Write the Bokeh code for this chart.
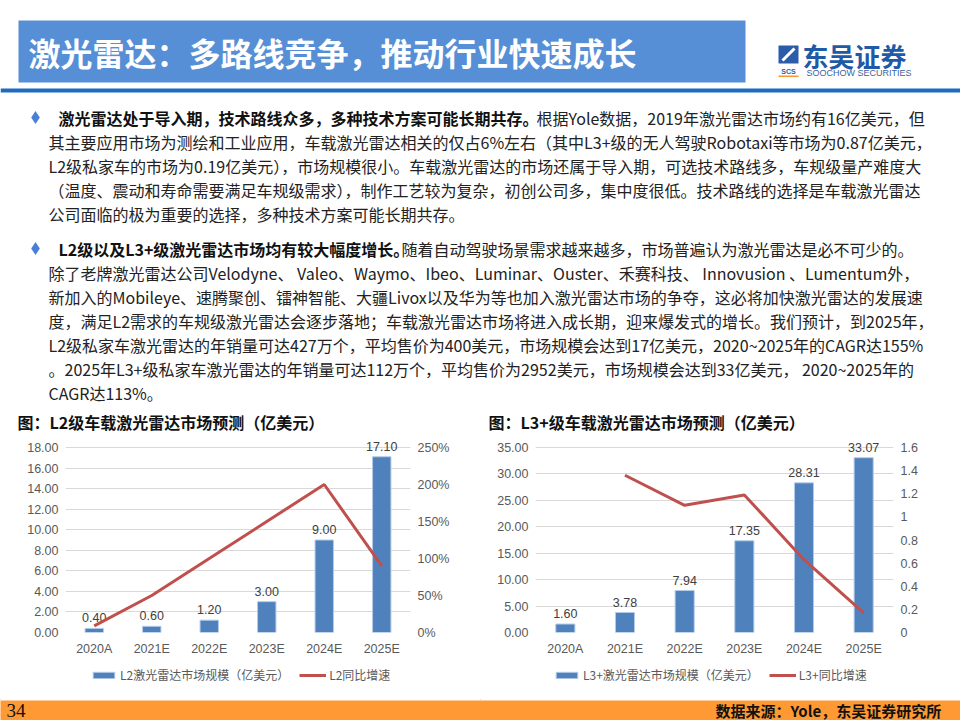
from bokeh.plotting import figure
from bokeh.models import (Range1d, FactorRange, LinearAxis, NumeralTickFormatter,
                          SingleIntervalTicker, Legend, LegendItem)
from bokeh.layouts import column, row
from bokeh.core.properties import value
from bokeh.embed import file_html
from bokeh.resources import INLINE

# ---------------- data ----------------
years = ["2020A", "2021E", "2022E", "2023E", "2024E", "2025E"]
l2_market = [0.40, 0.60, 1.20, 3.00, 9.00, 17.10]
l2_growth = [0.09, 0.50, 1.00, 1.50, 2.00, 0.90]
l3_market = [1.60, 3.78, 7.94, 17.35, 28.31, 33.07]
l3_growth = [None, 1.36, 1.10, 1.19, 0.63, 0.17]

title_text = "激光雷达：多路线竞争，推动行业快速成长"
para1_bold = "激光雷达处于导入期，技术路线众多，多种技术方案可能长期共存。"
para1_lines = [
    "根据Yole数据，2019年激光雷达市场约有16亿美元，但",
    "其主要应用市场为测绘和工业应用，车载激光雷达相关的仅占6%左右（其中L3+级的无人驾驶Robotaxi等市场为0.87亿美元，",
    "L2级私家车的市场为0.19亿美元），市场规模很小。车载激光雷达的市场还属于导入期，可选技术路线多，车规级量产难度大",
    "（温度、震动和寿命需要满足车规级需求），制作工艺较为复杂，初创公司多，集中度很低。技术路线的选择是车载激光雷达",
    "公司面临的极为重要的选择，多种技术方案可能长期共存。",
]
para2_bold = "L2级以及L3+级激光雷达市场均有较大幅度增长。"
para2_lines = [
    "随着自动驾驶场景需求越来越多，市场普遍认为激光雷达是必不可少的。",
    "除了老牌激光雷达公司Velodyne、 Valeo、Waymo、Ibeo、Luminar、Ouster、禾赛科技、 Innovusion 、Lumentum外，",
    "新加入的Mobileye、速腾聚创、镭神智能、大疆Livox以及华为等也加入激光雷达市场的争夺，这必将加快激光雷达的发展速",
    "度，满足L2需求的车规级激光雷达会逐步落地；车载激光雷达市场将进入成长期，迎来爆发式的增长。我们预计，到2025年，",
    "L2级私家车激光雷达的年销量可达427万个，平均售价为400美元，市场规模会达到17亿美元，2020~2025年的CAGR达155%",
    "。2025年L3+级私家车激光雷达的年销量可达112万个，平均售价为2952美元，市场规模会达到33亿美元， 2020~2025年的",
    "CAGR达113%。",
]
chart1_title = "图：L2级车载激光雷达市场预测（亿美元）"
chart2_title = "图：L3+级车载激光雷达市场预测（亿美元）"
chart1_legend = ["L2激光雷达市场规模（亿美元）", "L2同比增速"]
chart2_legend = ["L3+激光雷达市场规模（亿美元）", "L3+同比增速"]
source_text = "数据来源：Yole，东吴证券研究所"
page_no = "34"

CJK = value("Noto Sans CJK SC")
LAT = "Liberation Sans"
BAR_C = "#4f81bd"
LINE_C = "#c0504d"


def blank_canvas(w, h, x0, x1, y0, y1, bg="white"):
    f = figure(width=w, height=h, x_range=Range1d(x0, x1), y_range=Range1d(y0, y1),
               output_backend="svg", toolbar_location=None, min_border=0,
               x_axis_location=None, y_axis_location=None)
    f.grid.visible = False
    f.outline_line_color = None
    f.background_fill_color = bg
    f.border_fill_color = bg
    return f


# ---------------- top section (header + text) ----------------
top = blank_canvas(960, 436, 0, 960, 436, 0)

# title box
top.quad(left=18, right=745, top=20, bottom=82, fill_color="#568fd6", line_color=None)
top.text(x=[28], y=[51], text=[title_text], text_font=CJK, text_font_style="bold",
         text_font_size="32px", text_color="white", text_baseline="middle", text_align="left")
# blue rule
top.quad(left=0, right=960, top=88, bottom=92, fill_color="#1e6cc0", line_color=None)

# logo
top.quad(left=778, right=798, top=45, bottom=63, fill_color="#2a5caa", line_color=None)
top.segment(x0=[782], y0=[60], x1=[794], y1=[48], line_color="white", line_width=3)
top.text(x=[788], y=[71], text=["SCS"], text_font=value(LAT), text_font_style="bold",
         text_font_size="7px", text_color="#2a5caa", text_baseline="middle", text_align="center")
top.quad(left=778, right=798, top=75, bottom=76.5, fill_color="#f39a2b", line_color=None)
top.text(x=[802], y=[55], text=["东吴证券"], text_font=CJK, text_font_style="bold",
         text_font_size="26px", text_color="#1f5aa6", text_baseline="middle", text_align="left")
top.text(x=[806], y=[72], text=["SOOCHOW SECURITIES"], text_font=value(LAT),
         text_font_size="9px", text_color="#3a5fa0", text_baseline="middle", text_align="left")

# bullets
top.scatter(x=[35, 35], y=[117, 248], marker="diamond", size=13, fill_color="#4a7fd8", line_color=None)

body_kw = dict(text_font=CJK, text_font_size="16px", text_baseline="middle", text_align="left")
# paragraph 1
top.text(x=[58], y=[117], text=[para1_bold], text_font_style="bold", text_color="#111111", **body_kw)
p1_x = [536, 48, 48, 48, 48]
p1_y = [117, 141, 165, 189, 213]
top.text(x=p1_x, y=p1_y, text=para1_lines, text_color="#222222", **body_kw)
# paragraph 2
top.text(x=[58], y=[248], text=[para2_bold], text_font_style="bold", text_color="#111111", **body_kw)
p2_x = [401, 48, 48, 48, 48, 48, 48]
p2_y = [248, 272, 296, 320, 344, 368, 392]
top.text(x=p2_x, y=p2_y, text=para2_lines, text_color="#222222", **body_kw)

# chart titles
top.text(x=[17, 488], y=[421, 421], text=[chart1_title, chart2_title], text_font=CJK,
         text_font_style="bold", text_font_size="16px", text_color="#111111",
         text_baseline="middle", text_align="left")


# ---------------- charts ----------------
HEAD = 195.0 / 185.0   # frame extends above the top gridline to leave room for value labels


def make_chart(market, growth, y_max, y_step, g_max, g_step, g_fmt, left_b, right_b):
    p = figure(width=480, height=224, x_range=FactorRange(*years),
               y_range=Range1d(0, y_max * HEAD),
               output_backend="svg", toolbar_location=None,
               min_border_left=left_b, min_border_right=right_b,
               min_border_top=1, min_border_bottom=28)
    p.outline_line_color = None
    p.background_fill_color = "white"
    p.xgrid.visible = False
    p.ygrid.grid_line_color = "#d9d9d9"
    p.ygrid.grid_line_width = 1
    p.yaxis.ticker = SingleIntervalTicker(interval=y_step)
    p.yaxis.formatter = NumeralTickFormatter(format="0.00")
    p.extra_y_ranges = {"g": Range1d(0, g_max * HEAD)}
    ax2 = LinearAxis(y_range_name="g", ticker=SingleIntervalTicker(interval=g_step),
                     formatter=NumeralTickFormatter(format=g_fmt))
    p.add_layout(ax2, "right")
    for ax in p.axis:
        ax.axis_line_color = None
        ax.major_tick_line_color = None
        ax.minor_tick_line_color = None
        ax.major_tick_out = 0
        ax.major_tick_in = 0
        ax.minor_tick_out = 0
        ax.major_label_text_font = LAT
        ax.major_label_text_font_size = "12.5px"
        ax.major_label_text_color = "#595959"
    p.yaxis[0].major_label_standoff = 7
    ax2.major_label_standoff = 7
    p.xaxis.major_label_standoff = 9

    p.vbar(x=years, top=market, width=0.32, fill_color=BAR_C, line_color="#b4cbe8",
           line_width=1)
    p.text(x=years, y=market, text=[f"{v:.2f}" for v in market], y_offset=-6,
           text_align="center", text_baseline="bottom", text_font=value(LAT),
           text_font_size="12.5px", text_color="#404040")
    gx = [c for c, g in zip(years, growth) if g is not None]
    gy = [g for g in growth if g is not None]
    p.line(x=gx, y=gy, y_range_name="g", line_color=LINE_C, line_width=3)
    return p


def make_legend(names, x_left):
    # legend strip under each chart; proxy glyphs sit outside the visible range
    f = blank_canvas(480, 40, 0, 480, 0, 40)
    b = f.vbar(x=[-500], top=[1], width=1, fill_color=BAR_C, line_color="#b4cbe8", line_width=1)
    l = f.line(x=[-600, -550], y=[1, 1], line_color=LINE_C, line_width=3)
    lg = Legend(items=[LegendItem(label=names[0], renderers=[b]),
                       LegendItem(label=names[1], renderers=[l])],
                orientation="horizontal", location=(x_left, 17),
                glyph_width=27, glyph_height=8, label_standoff=3, spacing=10,
                padding=0, margin=0, border_line_color=None,
                background_fill_alpha=0, label_text_font="Noto Sans CJK SC",
                label_text_font_size="12px", label_text_color="#595959",
                label_height=14)
    f.add_layout(lg)
    return f


left = make_chart(l2_market, l2_growth, 18, 2, 2.5, 0.5, "0%", left_b=65, right_b=70)
right = make_chart(l3_market, l3_growth, 35, 5, 1.6, 0.2, "0.[0]", left_b=55, right_b=67)
leg_left = make_legend(chart1_legend, 90)
leg_right = make_legend(chart2_legend, 73)

# ---------------- footer ----------------
foot = blank_canvas(960, 20, 0, 960, 720, 700, bg="#ff9933")
foot.text(x=[6], y=[710], text=[page_no], text_font=value("Liberation Serif"),
          text_font_size="19px", text_color="#111111", text_baseline="middle", text_align="left")
foot.text(x=[715], y=[710], text=[source_text], text_font=CJK, text_font_style="bold",
          text_font_size="15px", text_color="#111111", text_baseline="middle", text_align="left")

page = column(top, row(left, right), row(leg_left, leg_right), foot)
open("out.html", "w").write(file_html(page, INLINE))
